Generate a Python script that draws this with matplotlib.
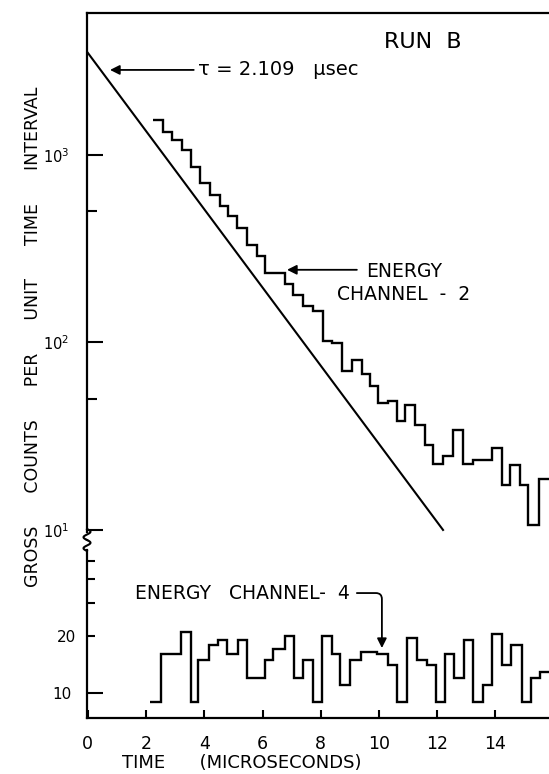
import numpy as np
import matplotlib
matplotlib.use("Agg")
import matplotlib.pyplot as plt
from matplotlib.lines import Line2D

# --- data ---
# energy channel 2 (gross counts, log scale), step edges in microseconds
ch2_edges = [2.24, 2.57, 2.88, 3.22, 3.53, 3.85, 4.19, 4.54, 4.82, 5.13, 5.45,
             5.80, 6.08, 6.77, 7.05, 7.40, 7.74, 8.09, 8.37, 8.72, 9.06, 9.41,
             9.69, 9.98, 10.32, 10.61, 10.89, 11.24, 11.58, 11.87, 12.21, 12.55,
             12.90, 13.24, 13.87, 14.22, 14.50, 14.85, 15.13, 15.51, 15.84]
ch2_counts = [1538, 1331, 1202, 1063, 866, 706, 612, 535, 473, 408, 331, 288,
              234, 205, 179, 157, 147, 102, 99, 70.5, 80.6, 68, 58.6, 47.4, 48.8,
              38.3, 46.4, 36.3, 28.4, 22.5, 24.8, 34.2, 22.4, 23.6, 27.3, 17.4,
              22.2, 17.4, 10.6, 18.6]

# energy channel 4 (lower panel)
ch4_edges = [2.15, 2.51, 3.19, 3.53, 3.79, 4.17, 4.48, 4.79, 5.16, 5.45, 6.08,
             6.37, 6.77, 7.08, 7.40, 7.72, 8.03, 8.37, 8.66, 9.00, 9.37, 9.94,
             10.32, 10.61, 10.95, 11.32, 11.64, 11.95, 12.27, 12.59, 12.93, 13.24,
             13.58, 13.87, 14.24, 14.55, 14.90, 15.21, 15.53, 15.84]
ch4_counts = [9, 16, 21, 9, 15, 18, 19, 16, 19, 12, 15, 17, 20, 12, 15, 9, 20,
              16, 11, 15, 16.5, 16, 14, 9, 19.5, 15, 14, 9, 16, 12, 19, 9, 11,
              20.5, 14, 18, 9, 12, 13]

# exponential fit, tau = 2.109 usec (end points of the drawn line)
fit_t = [0.0, 12.2]
fit_counts = [3500, 10]

x_ticks = [0, 2, 4, 6, 8, 10, 12, 14]

W, H = 549, 774
fig = plt.figure(figsize=(W / 100, H / 100), dpi=100)

def fx(px):
    return px / W

def fy(py):
    return 1 - py / H

left, right = fx(87), 1.0
top_ax = fig.add_axes([left, fy(532), right - left, fy(13) - fy(532)])
bot_ax = fig.add_axes([left, fy(718), right - left, fy(550) - fy(718)])

for ax in (top_ax, bot_ax):
    ax.set_xlim(-0.03, 15.84)
    ax.set_yscale('log')
    ax.spines['right'].set_visible(False)
    for s in ax.spines.values():
        s.set_linewidth(1.6)

top_ax.spines['bottom'].set_visible(False)
bot_ax.spines['top'].set_visible(False)

top_ax.set_ylim(9.75, 5714)
bot_ax.set_ylim(7.38, 57.1)

# top panel
top_ax.stairs(ch2_counts, ch2_edges, baseline=None, color='k', lw=1.7)
top_ax.plot(fit_t, fit_counts, color='k', lw=1.5)

top_ax.set_xticks([])
top_ax.set_yticks([10, 100, 1000], labels=['$10^1$', '$10^2$', '$10^3$'])
top_ax.set_yticks([50, 500], minor=True, labels=['', ''])
top_ax.tick_params(axis='y', which='major', direction='in', length=11.5,
                   width=1.5, pad=13, labelsize=10.5)
top_ax.tick_params(axis='y', which='minor', direction='in', length=7, width=1.5)

top_ax.text(11.51, 4010, 'RUN  B', fontsize=16, ha='center', va='center')
top_ax.annotate('τ = 2.109   μsec', xy=(0.76, 2840), xytext=(3.78, 2840),
                fontsize=14, ha='left', va='center',
                arrowprops=dict(arrowstyle='-|>', color='k', lw=1.3,
                                mutation_scale=14, shrinkA=1, shrinkB=0))
top_ax.annotate('', xy=(6.84, 244), xytext=(9.24, 244),
                arrowprops=dict(arrowstyle='-|>', color='k', lw=1.3,
                                mutation_scale=14, shrinkA=0, shrinkB=0))
top_ax.text(10.86, 207, 'ENERGY\nCHANNEL  -  2', fontsize=13.5, ha='center',
            va='center', linespacing=1.25)

# bottom panel
bot_ax.stairs(ch4_counts, ch4_edges, baseline=None, color='k', lw=1.7)
bot_ax.set_xticks(x_ticks, labels=[str(t) for t in x_ticks])
bot_ax.tick_params(axis='x', direction='in', length=6, width=1.5, pad=12,
                   labelsize=12.5)
bot_ax.set_yticks([10], labels=['10'])
bot_ax.set_yticks([20, 30, 40, 50], minor=True, labels=['20', '', '', ''])
bot_ax.tick_params(axis='y', which='major', direction='in', length=11.5,
                   width=1.5, pad=11, labelsize=11)
bot_ax.tick_params(axis='y', which='minor', direction='in', length=6,
                   width=1.5, pad=8, labelsize=11)

bot_ax.text(1.62, 33.8, 'ENERGY   CHANNEL-  4', fontsize=13.5, ha='left',
            va='center')
bot_ax.annotate('', xy=(10.1, 17.3), xytext=(9.24, 33.8),
                arrowprops=dict(arrowstyle='-|>', color='k', lw=1.3,
                                mutation_scale=14, shrinkA=0, shrinkB=0,
                                connectionstyle='angle,angleA=0,angleB=90,rad=6'))

# axis titles
fig.text(fx(122), fy(763), 'TIME      (MICROSECONDS)', fontsize=13,
         ha='left', va='center')
fig.text(fx(33), fy(337),
         'GROSS      COUNTS      PER      UNIT      TIME      INTERVAL',
         fontsize=12.5, rotation=90, ha='center', va='center')

# axis break marks on the left spine
s = np.linspace(0, 1, 30)
for y0 in (529, 540):
    xs = 87 - 3.5 * np.sin(np.pi * (2 * s - 1))
    ys = y0 + 11 * s
    fig.add_artist(Line2D(fx(xs), fy(ys), transform=fig.transFigure,
                          color='k', lw=1.5))

fig.savefig('out.png', dpi=100)
